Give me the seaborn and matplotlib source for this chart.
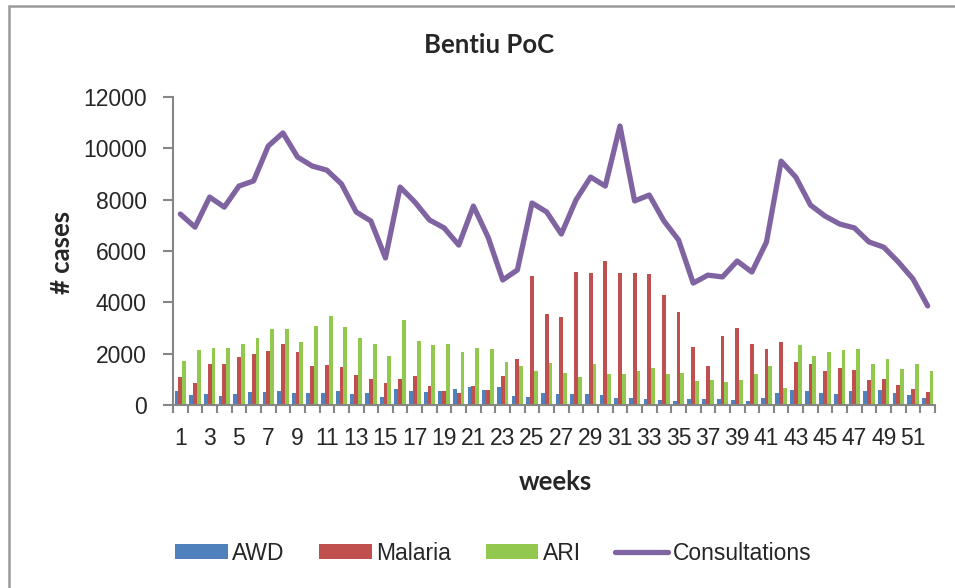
import numpy as np
import pandas as pd
import matplotlib
matplotlib.use("Agg")
import matplotlib.pyplot as plt
import seaborn as sns
from matplotlib.patches import Rectangle

weeks = list(range(1, 53))
awd = [532, 390, 429, 351, 416, 506, 494, 545, 468, 481, 468, 558, 416, 455, 312, 623, 545,
       519, 558, 610, 701, 584, 688, 364, 312, 455, 442, 429, 429, 377, 273, 273, 247, 195,
       156, 234, 247, 247, 195, 156, 286, 468, 571, 545, 455, 416, 532, 545, 584, 468, 377, 260]
malaria = [1078, 870, 1584, 1610, 1883, 1974, 2104, 2364, 2052, 1519, 1558, 1468, 1169, 1013, 844, 1000, 1130,
           740, 532, 481, 740, 584, 1130, 1805, 5026, 3545, 3416, 5182, 5130, 5610, 5143, 5130, 5104, 4286,
           3623, 2247, 1519, 2688, 3013, 2390, 2169, 2455, 1662, 1597, 1325, 1429, 1351, 961, 1013, 779, 610, 506]
ari = [1701, 2143, 2234, 2208, 2364, 2623, 2974, 2948, 2442, 3078, 3468, 3039, 2597, 2390, 1909, 3299, 2506,
       2338, 2364, 2078, 2234, 2182, 1675, 1532, 1312, 1636, 1247, 1104, 1610, 1195, 1208, 1325, 1455, 1195,
       1260, 922, 987, 883, 987, 1208, 1532, 675, 2325, 1909, 2065, 2143, 2169, 1584, 1792, 1403, 1584, 1325]
consultations = [7440, 6930, 8100, 7710, 8530, 8730, 10090, 10600, 9660, 9310, 9150, 8610, 7520, 7170, 5730,
                 8490, 7910, 7210, 6900, 6230, 7750, 6540, 4870, 5260, 7870, 7520, 6660, 7990, 8880, 8530,
                 10870, 7950, 8180, 7170, 6430, 4750, 5060, 4990, 5610, 5180, 6350, 9500, 8880, 7790, 7360,
                 7050, 6900, 6350, 6150, 5570, 4910, 3860]
series_names = ["AWD", "Malaria", "ARI"]
palette = {"AWD": "#4F81BD", "Malaria": "#C0504D", "ARI": "#92C84E"}
line_color = "#8064A2"

df = pd.DataFrame({
    "week": weeks * 3,
    "cases": awd + malaria + ari,
    "series": ["AWD"] * 52 + ["Malaria"] * 52 + ["ARI"] * 52,
})

sns.set_style("white")
plt.rcParams["font.family"] = ["Liberation Sans", "DejaVu Sans"]

fig = plt.figure(figsize=(9.55, 5.88), dpi=100)
ax = fig.add_axes([173 / 955, 1 - 405 / 588, (935 - 173) / 955, (405 - 97) / 588])

sns.barplot(data=df, x="week", y="cases", hue="series", hue_order=series_names,
            palette=palette, width=0.78, ax=ax, saturation=1, linewidth=0)
sns.lineplot(x=np.arange(52), y=consultations, color=line_color, lw=3.8,
             label="Consultations", ax=ax, solid_joinstyle="round", solid_capstyle="round")

ax.set_xlim(-0.5, 51.5)
ax.set_ylim(0, 12000)
ax.set_yticks(np.arange(0, 12001, 2000))
ax.set_xticks(np.arange(0, 52, 2))
ax.set_xticklabels([str(w) for w in weeks[::2]])
ax.set_xticks(np.arange(-0.5, 52, 1), minor=True)
ax.tick_params(axis="x", which="major", length=0, pad=16, labelsize=16.5)
ax.tick_params(axis="x", which="minor", length=6, width=1.5, color="#868686", direction="out", bottom=True)
ax.tick_params(axis="y", length=7, width=1.5, color="#868686", direction="out", pad=12, labelsize=16.5, left=True)
for s in ["top", "right"]:
    ax.spines[s].set_visible(False)
for s in ["left", "bottom"]:
    ax.spines[s].set_color("#868686")
    ax.spines[s].set_linewidth(1.5)
ax.set_xlabel("")
ax.set_ylabel("")
ax.grid(False)

bold = dict(family=["Lato", "DejaVu Sans"], fontweight="bold", fontsize=18.5)
fig.text(489 / 955, 1 - 45 / 588, "Bentiu PoC", ha="center", va="center", **bold)
fig.text(62 / 955, 1 - 252 / 588, "# cases", ha="center", va="center", rotation=90, **bold)
fig.text(555 / 955, 1 - 482 / 588, "weeks", ha="center", va="center", **bold)

handles, labels = ax.get_legend_handles_labels()
order = [labels.index(n) for n in ["AWD", "Malaria", "ARI", "Consultations"]]
if ax.legend_:
    ax.legend_.remove()
fig.legend([handles[i] for i in order], [labels[i] for i in order],
           loc="center", bbox_to_anchor=(493 / 955, 1 - 553 / 588), ncol=4, frameon=False,
           fontsize=16.5, handlelength=2.3, handleheight=0.65, handletextpad=0.2,
           columnspacing=1.5)

fig.patches.append(Rectangle((8.5 / 955, -0.1), 2.0, 1.1 - 6 / 588, transform=fig.transFigure,
                             fill=False, edgecolor="#9a9a9a", linewidth=1.8, zorder=0))

fig.savefig("out.png", dpi=100)
